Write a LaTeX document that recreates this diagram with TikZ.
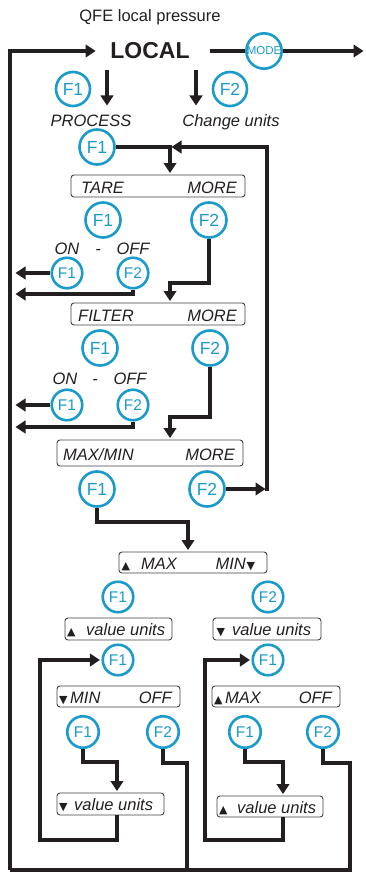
\documentclass[tikz,border=0pt]{standalone}
\usepackage{fontspec}
\setmainfont{Liberation Sans}
\newfontfamily\symf{DejaVu Sans}
\usetikzlibrary{arrows.meta}
\definecolor{ink}{HTML}{231F20}
\definecolor{fblue}{HTML}{1A9BC9}
\tikzset{
  conn/.style={line width=3.2pt, draw=ink, line join=miter},
  tipa/.style={-{Triangle[length=10pt,width=12.5pt]}, shorten >=1.5pt},
  key/.style={circle, draw=fblue, line width=2.6pt, fill=white, text=fblue, inner sep=0pt,
    minimum size=35pt, font=\fontsize{17.5}{17}\selectfont},
  keys/.style={key, minimum size=30.5pt, font=\fontsize{15.5}{15}\selectfont},
  lcd/.style={draw=ink!85, line width=0.9pt, rounded corners=3pt, inner sep=0pt},
  lbl/.style={font=\fontsize{16.5}{18}\selectfont\itshape, text=ink, inner sep=0pt},
  tri/.style={font=\symf\fontsize{11}{11}\selectfont, text=ink, inner sep=0pt}
}
\begin{document}
\begin{tikzpicture}[x=1pt,y=-1pt]
\useasboundingbox (0,0) rectangle (366,872);

% ---------- top ----------
\node[font=\fontsize{16.5}{18}\selectfont, text=ink, inner sep=0pt, anchor=base] (title) at (150,22) {QFE local pressure};
\node[font=\fontsize{23}{24}\selectfont\bfseries, text=ink, inner xsep=13pt, inner ysep=2pt] (local) at (150,51) {LOCAL};
\node[key, minimum size=34.5pt, font=\fontsize{11.5}{10}\selectfont] (mode) at (264,51) {MODE};
\coordinate (rEnd) at (365,51);

\node[key, minimum size=34pt] (fa1) at (73,89) {F1};
\node[key, minimum size=34pt] (fa2) at (230,89) {F2};
\coordinate (dA1) at (107,70); \coordinate (dA2) at (107,107);
\coordinate (dB1) at (196,70); \coordinate (dB2) at (196,107);
\node[lbl, anchor=base] (process) at (91,126) {PROCESS};
\node[lbl, anchor=base] (change) at (231,126) {Change units};

% ---------- TARE ----------
\node[key] (fp) at (97,147) {F1};
\node[lcd, minimum width=174pt, minimum height=22pt] (tare) at (158,186) {};
\node[lbl, anchor=base west] (tareL) at (81,193.5) {TARE};
\node[lbl, anchor=base east] (tareR) at (237,193.5) {MORE};
\node[key] (ft1) at (103,220) {F1};
\node[key] (ft2) at (209,220) {F2};
\node[lbl, anchor=base] (on1t) at (67,254) {ON};
\node[lbl, anchor=base] (da1t) at (98,254) {-};
\node[lbl, anchor=base] (off1t) at (133,254) {OFF};
\node[keys] (on1) at (67,273) {F1};
\node[keys] (off1) at (133,273) {F2};

% ---------- FILTER ----------
\node[lcd, minimum width=174pt, minimum height=22pt] (filter) at (158,314) {};
\node[lbl, anchor=base west] (filL) at (78,321.5) {FILTER};
\node[lbl, anchor=base east] (filR) at (237,321.5) {MORE};
\node[key] (ff1) at (100,348) {F1};
\node[key] (ff2) at (210,348) {F2};
\node[lbl, anchor=base] (on2t) at (65,384) {ON};
\node[lbl, anchor=base] (da2t) at (95,384) {-};
\node[lbl, anchor=base] (off2t) at (130,384) {OFF};
\node[keys] (on2) at (67,405) {F1};
\node[keys] (off2) at (133,405) {F2};

% ---------- MAX/MIN ----------
\node[lcd, minimum width=186pt, minimum height=26pt] (maxmin) at (150,453) {};
\node[lbl, anchor=base west] (mmL) at (63,460) {MAX/MIN};
\node[lbl, anchor=base east] (mmR) at (235,460) {MORE};
\node[key] (fm1) at (97,489) {F1};
\node[key] (fm2) at (207,489) {F2};

\node[lcd, minimum width=148pt, minimum height=21pt] (mm2) at (193,562.5) {};
\node[tri, anchor=base west] (mm2a) at (121.5,569) {▲};
\node[lbl, anchor=base west] (mm2L) at (141,569) {MAX};
\node[lbl, anchor=base east] (mm2R) at (246,569) {MIN};
\node[tri, anchor=base west] (mm2b) at (246.5,569) {▼};
\node[keys] (fx1) at (118,597) {F1};
\node[keys] (fx2) at (268,597) {F2};

\node[lcd, minimum width=107pt, minimum height=22pt] (vu1) at (118.5,629) {};
\node[tri, anchor=base west] (vu1a) at (67,635.5) {▲};
\node[lbl, anchor=base west] (vu1t) at (86,635.5) {value units};
\node[lcd, minimum width=108pt, minimum height=22pt] (vu2) at (267,629) {};
\node[tri, anchor=base west] (vu2a) at (216.5,635.5) {▼};
\node[lbl, anchor=base west] (vu2t) at (232,635.5) {value units};

\node[keys] (fl1) at (118,660) {F1};
\node[keys] (fr1) at (268,660) {F1};

\node[lcd, minimum width=123pt, minimum height=21pt] (minoff) at (118.5,696.5) {};
\node[tri, anchor=base west] (mo1) at (59,703) {▼};
\node[lbl, anchor=base west] (moL) at (70,703) {MIN};
\node[lbl, anchor=base east] (moR) at (172,703) {OFF};
\node[lcd, minimum width=128pt, minimum height=21pt] (maxoff) at (276,696.5) {};
\node[tri, anchor=base west] (mx1) at (214,703) {▲};
\node[lbl, anchor=base west] (mxL) at (225,703) {MAX};
\node[lbl, anchor=base east] (mxR) at (332,703) {OFF};

\node[keys, minimum size=31.5pt] (fmn1) at (83,732) {F1};
\node[keys, minimum size=31.5pt] (fmn2) at (163,732) {F2};
\node[keys, minimum size=31.5pt] (fmx1) at (245,732) {F1};
\node[keys, minimum size=31.5pt] (fmx2) at (323,732) {F2};

\node[lcd, minimum width=107pt, minimum height=22pt] (vb1) at (110.5,804) {};
\node[tri, anchor=base west] (vb1a) at (59,810.5) {▼};
\node[lbl, anchor=base west] (vb1t) at (74,810.5) {value units};
\node[lcd, minimum width=106pt, minimum height=21pt] (vb2) at (270,806.5) {};
\node[tri, anchor=base west] (vb2a) at (219,813) {▲};
\node[lbl, anchor=base west] (vb2t) at (237,813) {value units};

% ---------- coordinates ----------
\coordinate (j1) at (170,147);
\coordinate (r1) at (267,489);
\coordinate (r1b) at (267,491);
\coordinate (j2) at (170,283);
\coordinate (j3) at (170,417);
\coordinate (l1) at (14,273);
\coordinate (l2) at (14,294);
\coordinate (l3) at (14,405);
\coordinate (l4) at (14,427);
\coordinate (j5) at (188,522);
\coordinate (a1) at (117,762);
\coordinate (a2) at (283,762);
\coordinate (lp1) at (40,840);
\coordinate (lp2) at (205,840);
\coordinate (c1) at (350,763);
\coordinate (c2) at (10,870);
\coordinate (c3) at (187,763);
\coordinate (c4) at (187,870);

% ---------- connectors ----------
\draw[conn, tipa] (c2) |- (local.west);
\draw[conn] (local.east) ++(7,0) -- (mode.west);
\draw[conn, tipa] (mode.east) -- (rEnd);
\draw[conn, tipa] (dA1) -- (dA2);
\draw[conn, tipa] (dB1) -- (dB2);

\draw[conn, tipa] (fp.east) -- (j1) -- (j1 |- tare.north);
\draw[conn, tipa] (r1b) |- (j1);
\draw[conn, tipa] (fm2.east) -- (r1);

\draw[conn, tipa] (ft2.south) |- (j2) -- (j2 |- filter.north);
\draw[conn, tipa] (on1.west) -- (l1);
\draw[conn, tipa] (off1.south) |- (l2);

\draw[conn, tipa] (ff2.south) |- (j3) -- (j3 |- maxmin.north);
\draw[conn, tipa] (on2.west) -- (l3);
\draw[conn, tipa] (off2.south) |- (l4);

\draw[conn, tipa] (fm1.south) |- (j5) -- (j5 |- mm2.north);

\draw[conn, tipa] (fmn1.south) |- (a1) -- (a1 |- vb1.north);
\draw[conn, tipa] (a1 |- vb1.south) |- (lp1) |- (fl1.west);
\draw[conn, tipa] (fmx1.south) |- (a2) -- (a2 |- vb2.north);
\draw[conn, tipa] (a2 |- vb2.south) |- (lp2) |- (fr1.west);

\draw[conn] (fmx2.south) |- (c1) |- (c2);
\draw[conn] (fmn2.south) |- (c3) -- (c4);
\end{tikzpicture}
\end{document}
